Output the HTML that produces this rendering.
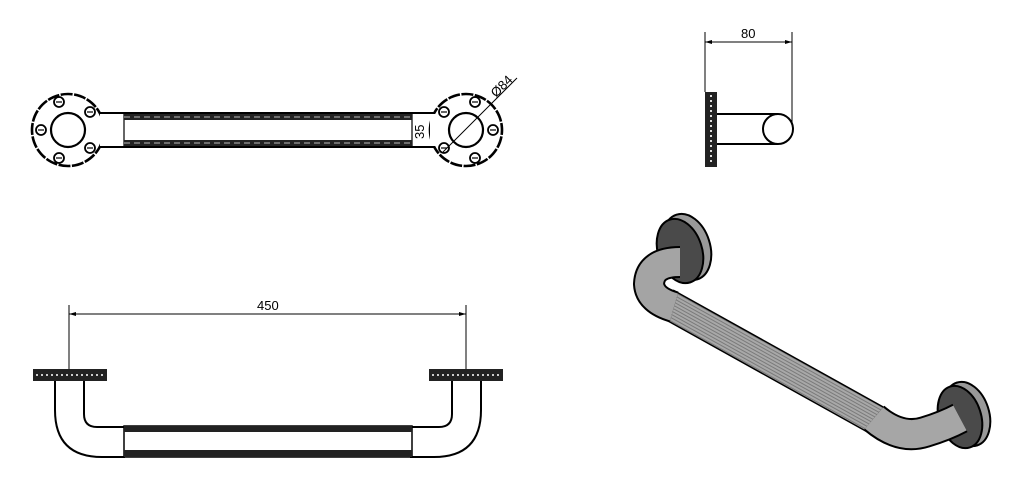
<!DOCTYPE html>
<html><head><meta charset="utf-8"><style>
html,body{margin:0;padding:0;background:#fff;width:1024px;height:491px;overflow:hidden}
svg{display:block}
text{font-family:"Liberation Sans",sans-serif;font-size:13px;fill:#000}
</style></head><body>
<svg width="1024" height="491" viewBox="0 0 1024 491" xmlns="http://www.w3.org/2000/svg">
<defs>
<g id="bolt"><circle r="5" fill="#fff" stroke="#000" stroke-width="1.8"/><line x1="-3" y1="0" x2="3" y2="0" stroke="#000" stroke-width="1.2"/></g>
<g id="flange">
<circle r="36" fill="#fff" stroke="#000" stroke-width="2.6" stroke-dasharray="12 1.5"/>
<circle r="17" fill="#fff" stroke="#000" stroke-width="2.2"/>
<use href="#bolt" x="-9" y="-28"/><use href="#bolt" x="22" y="-18"/><use href="#bolt" x="-27" y="0"/><use href="#bolt" x="22" y="18"/><use href="#bolt" x="-9" y="28"/>
</g>
<pattern id="rib" width="3" height="3" patternUnits="userSpaceOnUse" patternTransform="rotate(29)"><rect width="3" height="3" fill="#a8a8a8"/><rect width="3" height="1" fill="#7a7a7a"/></pattern>
</defs>

<!-- Top view -->
<rect x="100" y="113" width="335" height="34" fill="#fff" stroke="#000" stroke-width="2"/>
<rect x="124" y="114" width="288" height="32" fill="#fff" stroke="#000" stroke-width="1.2"/>
<rect x="124" y="114" width="288" height="6" fill="#222"/>
<rect x="124" y="140" width="288" height="6" fill="#222"/>
<line x1="124" y1="117" x2="412" y2="117" stroke="#bbb" stroke-width="1" stroke-dasharray="6 4"/>
<line x1="124" y1="143" x2="412" y2="143" stroke="#bbb" stroke-width="1" stroke-dasharray="6 4"/>
<use href="#flange" x="68" y="130"/>
<use href="#flange" transform="translate(466,130) scale(-1,1)"/>
<rect x="100" y="114" width="6" height="32" fill="#fff"/>
<rect x="430" y="114" width="6" height="32" fill="#fff"/>
<line x1="443" y1="152" x2="517" y2="78" stroke="#000" stroke-width="1"/>
<text transform="translate(496,98) rotate(-45)">Ø84</text>
<text transform="translate(424,139) rotate(-90)">35</text>

<!-- Side view -->
<line x1="705" y1="32" x2="705" y2="92" stroke="#000" stroke-width="1"/>
<line x1="792" y1="32" x2="792" y2="128" stroke="#000" stroke-width="1"/>
<line x1="705" y1="42" x2="792" y2="42" stroke="#000" stroke-width="1"/>
<path d="M705 42l7-2v4zM792 42l-7-2v4z" fill="#000"/>
<text x="741" y="38">80</text>
<rect x="705" y="92" width="12" height="75" fill="#222"/>
<line x1="711" y1="95" x2="711" y2="164" stroke="#ddd" stroke-width="2" stroke-dasharray="2 3"/>
<path d="M717 114H778M717 144H778" stroke="#000" stroke-width="2"/>
<circle cx="778" cy="129" r="15" fill="#fff" stroke="#000" stroke-width="2"/>

<!-- Front view -->
<line x1="69" y1="305" x2="69" y2="369" stroke="#000" stroke-width="1"/>
<line x1="466" y1="305" x2="466" y2="369" stroke="#000" stroke-width="1"/>
<line x1="69" y1="314" x2="466" y2="314" stroke="#000" stroke-width="1"/>
<path d="M69 314l7-2v4zM466 314l-7-2v4z" fill="#000"/>
<text x="257" y="310">450</text>
<rect x="33" y="369" width="74" height="12" fill="#222"/>
<rect x="429" y="369" width="74" height="12" fill="#222"/>
<line x1="36" y1="375" x2="104" y2="375" stroke="#ccc" stroke-width="2" stroke-dasharray="2 3"/>
<line x1="432" y1="375" x2="500" y2="375" stroke="#ccc" stroke-width="2" stroke-dasharray="2 3"/>
<path d="M55 381V410Q55 457 102 457H125M84 381V414Q84 427 97 427H125" fill="none" stroke="#000" stroke-width="2"/>
<path d="M481 381V410Q481 457 434 457H410M452 381V414Q452 427 439 427H410" fill="none" stroke="#000" stroke-width="2"/>
<rect x="124" y="426" width="288" height="31" fill="#fff" stroke="#000" stroke-width="1.5"/>
<rect x="124" y="426" width="288" height="6" fill="#222"/>
<rect x="124" y="450" width="288" height="7" fill="#222"/>

<!-- Iso view -->
<g transform="rotate(-18 687 247)"><ellipse cx="687" cy="247" rx="23" ry="34" fill="#999" stroke="#000" stroke-width="2"/></g>
<g transform="rotate(-18 680 251)"><ellipse cx="680" cy="251" rx="22" ry="33" fill="#4a4a4a" stroke="#000" stroke-width="2"/></g>
<g transform="rotate(-18 967 414)"><ellipse cx="967" cy="414" rx="22" ry="33" fill="#999" stroke="#000" stroke-width="2"/></g>
<g transform="rotate(-18 960 417)"><ellipse cx="960" cy="417" rx="21" ry="32" fill="#4a4a4a" stroke="#000" stroke-width="2"/></g>
<path d="M666 303L878 421" stroke="#000" stroke-width="31"/>
<path d="M666 303L878 421" stroke="url(#rib)" stroke-width="28"/>
<path d="M680 262Q650 262 649 284Q650 300 674 307" fill="none" stroke="#000" stroke-width="32"/>
<path d="M680 262Q650 262 649 284Q650 300 674 307" fill="none" stroke="#a4a4a4" stroke-width="28"/>
<path d="M874 418Q900 440 925 432Q945 426 960 418" fill="none" stroke="#000" stroke-width="32"/>
<path d="M874 418Q900 440 925 432Q945 426 960 418" fill="none" stroke="#a6a6a6" stroke-width="28"/>
</svg>
</body></html>
